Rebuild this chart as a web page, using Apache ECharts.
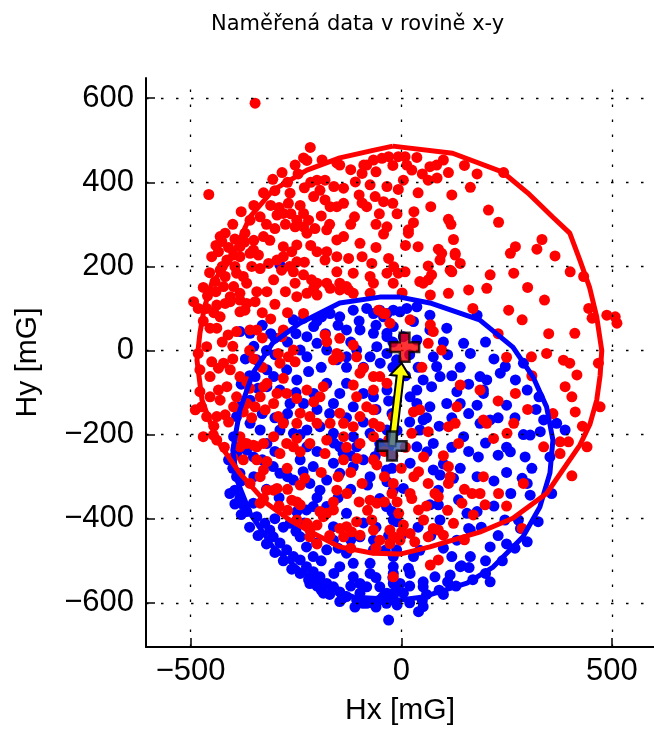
<!DOCTYPE html>
<html><head><meta charset="utf-8">
<script src="https://cdn.jsdelivr.net/npm/echarts@6/dist/echarts.min.js"></script>
<style>html,body{margin:0;padding:0;background:#fff}#c{width:654px;height:731px}</style>
</head><body><div id="c"></div>
<script>
const chartTitle = 'Naměřená data v rovině x-y';
const xName = 'Hx [mG]';
const yName = 'Hy [mG]';
const xTicks = [-500, 0, 500];
const yTicks = [-600, -400, -200, 0, 200, 400, 600];

const redPoints = [
[-347,588],[-457,371],[-216,483],[-232,458],[-252,441],[-224,452],[-188,453],[-153,446],[-283,423],[-305,407],[-327,375],[-230,387],[-200,405],[-181,405],[-193,381],[-264,374],[-268,350],[-280,326],[-295,322],[-208,366],[-181,358],[-169,342],[-153,342],[-232,326],[-248,310],[-252,294],[-232,294],[-224,279],[-335,318],[-359,310],[-371,279],[-327,271],[-430,271],[-418,279],[-426,259],[-383,247],[-351,239],[-434,235],[-398,227],[-450,223],[-248,251],[-280,247],[-200,235],[-177,235],[-153,263],[-177,287],
[-146,441],[-89,441],[-82,441],[-66,453],[-46,457],[-30,461],[-93,421],[-7,461],[9,461],[37,459],[13,441],[25,429],[5,405],[68,437],[84,441],[100,453],[112,423],[64,405],[-137,386],[-109,401],[-74,394],[-34,390],[-7,383],[40,375],[120,370],[164,388],[-137,350],[-93,351],[-82,342],[-62,366],[-42,354],[-111,318],[-52,325],[-10,325],[70,342],[-34,294],[-42,277],[17,287],[29,304],[17,279],[112,312],[118,300],[124,264],[207,334],[231,305],[243,423],[-98,255],[-137,271],[40,247],[88,241],[128,231],[259,231],[271,247],[334,264],[322,241],[365,225],[-125,219],[-93,223],[-30,219],[92,215],
[-18,199],[-34,184],[9,187],[44,164],[64,168],[72,180],[52,160],[64,201],[96,231],[128,227],[140,207],[116,191],[120,187],[211,180],[203,148],[160,144],[267,184],[401,187],[433,176],[2,137],[69,132],[112,136],[-38,88],[21,73],[69,61],[76,45],[64,17],[96,1],[255,96],[287,73],[412,41],[445,100],[453,77],[488,84],[508,80],[512,65],[468,-30],[345,-7],[309,-15],[250,-16],[385,-23],[417,-58],[49,-40],[140,-82],[187,-94],[132,-134],[128,-173],[112,-181],[195,-165],[203,-173],[271,-102],[389,-86],[405,-110],[413,-146],[472,-134],[267,-173],[251,-197],[219,-209],[136,-221],[64,-193],[25,-197],[29,-146],[44,-141],[338,-229],[377,-217],[397,-217],[441,-229],
[377,-245],[405,-298],[290,-316],[53,-253],[112,-276],[116,-300],[112,-316],[195,-300],[64,-316],[41,-288],[-22,-340],[21,-340],[25,-352],[80,-340],[88,-348],[144,-363],[168,-340],[187,-340],[199,-367],[231,-340],[-6,-387],[41,-379],[53,-403],[124,-411],[171,-391],[5,-415],[1,-431],[21,-435],[-3,-451],[32,-455],[-27,-459],[-51,-451],[64,-443],[76,-423],[88,-427],[100,-439],[287,-423],[88,-498],[69,-510],[-19,-538],
[-438,-213],[-383,-229],[-375,-221],[-351,-225],[-327,-221],[-375,-260],[-343,-260],[-327,-284],[-319,-264],[-288,-245],[-256,-229],[-240,-241],[-181,-245],[-137,-260],[-105,-257],[-66,-260],[-58,-272],[-271,-280],[-229,-304],[-260,-356],[-248,-360],[-240,-367],[-153,-332],[-161,-360],[-129,-340],[-93,-316],[-74,-356],[-58,-363],[-19,-316],[-335,-363],[-327,-352],[-319,-332],[-303,-332],[-295,-328],[-335,-300],[-359,-316],[-248,-403],[-224,-411],[-217,-427],[-217,-443],[-200,-415],[-185,-395],[-193,-383],[-177,-387],[-161,-379],[-146,-423],[-130,-419],[-118,-431],[-106,-407],[-98,-439],[-137,-443],[-66,-427],[-70,-403],[-27,-427],[-19,-443],
[-414,215],[-383,223],[-359,231],[-339,227],[-315,207],[-295,215],[-280,223],[-260,235],[-248,211],[-181,215],[-153,223],[-70,207],[-7,184],
[-256,187],[-232,180],[-213,168],[-200,160],[-252,160],[-153,187],[-177,160],[-146,160],[-125,144],[-114,184],[-74,176],[-66,160],[-19,160],
[-430,191],[-418,176],[-391,184],[-375,176],[-442,164],[-422,152],[-398,152],[-367,160],[-343,140],[-383,136],[-406,128],[-319,140],[-303,168],[-284,191],
[-493,116],[-482,100],[-462,100],[-438,108],[-418,112],[-406,116],[-383,120],[-367,112],[-347,116],[-371,96],[-430,80],[-454,53],[-438,53],[-411,37],[-391,45],[-383,92],[-359,49],[-343,49],[-280,49],[-284,33],[-256,1],[-292,-7],
[-248,128],[-224,136],[-200,132],[-169,148],[-146,144],[-130,152],[-208,148],[-114,136],[-74,136],[-42,88],[-27,65],[-54,96],
[-232,88],[-181,37],[-177,21],[-146,29],[-153,-7],[-114,13],[-106,-15],[-90,-42],[-98,-54],[-66,-62],[-51,-62],[-114,-82],[-185,-86],[-161,-22],[-146,-15],
[-288,-30],[-268,-15],[-252,-27],[-280,-66],[-319,-78],[-295,-102],[-248,-114],[-272,-102],[-224,-94],[-208,-122],[-193,-110],
[-482,-7],[-462,9],[-450,-27],[-478,-46],[-454,-62],[-434,-42],[-422,-30],[-406,-46],[-383,-62],[-367,-74],[-391,-110],[-430,-118],[-454,-110],[-474,-134],[-489,-141],[-478,-98],[-414,-86],[-434,-94],
[-462,-157],[-438,-157],[-418,-153],[-398,-134],[-375,-146],[-367,-126],[-347,-134],[-327,-86],[-335,-110],[-323,-141],[-303,-126],[-292,-157],[-280,-173],[-248,-173],[-240,-149],[-217,-157],[-200,-173],[-169,-173],[-146,-149],[-137,-173],[-114,-181],[-98,-157],[-82,-134],[-66,-141],[-66,-94],[-34,-78],[-106,-110],[-66,-173],[-19,-157],[-51,-181],
[-470,-205],[-446,-201],[-383,-205],[-367,-221],[-343,-229],[-303,-205],[-272,-221],[-248,-209],[-217,-221],[-177,-213],[-137,-205],[-98,-221],[-66,-205],[-30,-213],
[-440,250],[-410,245],[-395,265],[-372,258],[-350,262],[-312,262],[-300,290],[-320,300],[-290,340],[-310,345],[-262,325],[-275,300],[-240,345],[-220,310],[-205,290],[-190,320],[-215,400],[-245,420],[-270,400],[-300,380],[-350,345],[-380,330],[-400,300],[-425,200],[-455,185],[-470,150],[-460,130],[-445,90],[-470,70],[-425,20],[-400,10],[-360,0],[-330,30],[-310,75],[-270,90],[-330,90],[-300,110],[-275,140],[-265,200],[-230,210],[-215,250],[-335,195],[-355,200],[-395,200],[-440,140],[-330,-40],[-350,-20],[-360,-90],[-400,-20],[-410,-170],[-355,-160],[-445,-180],[-420,-230],[-400,-255],
[-120,430],[-60,425],[-20,440],[50,420],[85,410],[150,440],[180,420],[-100,370],[-160,390],[-60,300],[-20,350],[30,330],[10,250],[-60,245],[-170,300],[-120,300],
[300,150],[340,120],[230,40],[170,100],[310,-60],[360,-150],[300,-140],[230,-120],[430,-180],[350,40],[400,-30],
[-150,-300],[-120,-290],[-40,-300],[0,-280],[30,-300],[-80,-380],[-100,-360],[-40,-360],[-10,-360],[60,-370],[110,-380],[150,-330],[250,-370],[150,-450],[-120,-470],[-60,-470],[-200,-460],[-170,-440],[-20,-250],[10,-230],[100,-250],[-40,-240],[-130,-230],[-190,-290],[-240,-320],[-270,-330],[-290,-370],[-270,-380]
];

const bluePoints = [
[-288,203],[-383,45],[-359,41],
[-256,73],[-232,77],[-208,57],[-189,80],[-169,88],[-146,80],[-114,96],[-82,100],[-66,88],[-42,80],[-19,96],
[-224,33],[-200,17],[-240,1],[-224,-15],[-177,1],[-153,-22],[-130,-15],[-106,1],[-74,-15],[-58,9],[-34,-7],[-11,-22],[-66,41],[-130,49],[-98,49],[-34,41],
[-343,-22],[-319,-46],[-347,-62],[-303,-62],[-272,-46],[-248,-70],[-319,-86],[-288,-94],[-264,-126],[-232,-126],[-208,-102],[-177,-78],[-146,-102],[-130,-78],[-90,-102],[-66,-110],[-34,-94],[-11,-118],[-161,-126],[-114,-134],[-359,-118],[-383,-134],[-391,-157],[-359,-173],[-335,-189],[-288,-189],[-256,-197],[-224,-189],[-193,-181],[-161,-197],[-114,-205],[-74,-197],[-51,-221],[-146,-229],[-224,-229],[-319,-221],[-398,-205],[-375,-221],
[-51,96],[-34,88],[-3,92],[13,100],[37,104],[68,84],[29,69],[-19,57],[-34,33],[5,33],[37,25],[68,49],[108,53],[148,17],[164,-7],[180,84],[187,-62],[203,-70],[195,-94],[235,-54],[247,-38],[271,-70],[299,-94],[327,-110],[338,-165],[369,-173],[389,-189],[195,-102],[76,-15],[84,-38],[92,-62],[72,-86],[52,-70],[37,-94],[21,-110],[37,-126],[68,-134],[108,-126],[140,-126],[132,-98],[52,-165],[44,-189],[-22,-150],[-34,-189],[76,-221],[148,-205],[187,-173],[211,-165],[306,-201],[330,-193],
[37,-229],[61,-241],[21,-268],[-22,-280],[92,-296],[124,-304],[183,-253],[230,-249],[259,-241],[294,-253],[310,-280],[287,-304],[299,-316],[306,-344],[353,-253],[357,-340],[68,-367],[88,-367],[136,-355],[156,-387],[180,-383],[-22,-383],[-11,-407],[92,-403],[132,-451],[160,-423],[164,-427],[246,-403],[278,-403],[325,-407],[283,-423],[211,-467],[299,-455],[164,-490],[120,-490],[140,-514],[116,-534],[80,-538],[52,-550],[52,-562],[21,-530],[17,-518],[-19,-530],[-19,-554],[-34,-577],[-11,-573],[5,-577],[-51,-593],[41,-621],[52,-609],[-30,-641],[211,-550],[76,-284],[88,-332],[5,-328],[-34,-312],[-51,-352],[-38,-475],[44,-475],[29,-490],[-19,-490],
[143,-512],[161,-516],[-190,-570],[-91,-601],
[-407,-340],[-395,-332],[-383,-351],[-375,-367],[-367,-383],[-351,-363],[-343,-395],[-324,-411],[-312,-427],[-304,-443],[-288,-458],[-272,-474],[-256,-490],[-240,-498],[-225,-514],[-209,-526],[-193,-538],[-177,-554],[-161,-562],[-146,-574],[-130,-585],[-106,-593],[-82,-601],[-66,-601],[-35,-601],[-19,-593],[-146,-597],
[-391,-300],[-383,-292],[-391,-244],[-391,-229],[-367,-237],[-351,-253],[-304,-276],[-288,-292],[-256,-308],[-233,-288],[-209,-276],[-217,-316],[-193,-332],[-209,-371],[-177,-371],[-225,-379],[-248,-383],[-264,-411],[-240,-443],[-225,-467],[-201,-458],[-209,-490],[-177,-474],[-161,-451],[-146,-514],[-114,-538],[-98,-554],[-74,-530],[-74,-506],[-66,-474],[-114,-506],[-130,-482],[-98,-443],[-66,-451],[-161,-419],[-130,-387],[-177,-308],[-146,-292],[-114,-276],[-138,-244],[-106,-229],[-161,-268],[-74,-300],[-62,-252],[-51,-237],[-35,-284],[-19,-332],[-35,-371],[-19,-403],[-11,-474],[-19,-514],[-3,-554],[-51,-562],[-98,-577],[-19,-577],[-43,-585],[-82,-562],[-217,-554],[-185,-577],
[-300,-10],[-270,20],[-250,40],[-300,30],[-320,0],[-200,70],[-150,60],[-180,40],[-100,70],[-120,20],[-60,60],[-20,20],[20,-10],[40,-40],[10,-60],[-20,-40],[-50,-30],[-90,-40],[-130,-40],[-190,-40],[-220,-50],[-250,-100],[-200,-140],[-170,-150],[-130,-160],[-90,-170],[-60,-140],[-30,-120],[-10,-190],[20,-170],[60,-160],[90,-180],[120,-160],[160,-150],[180,-130],[230,-160],[250,-130],[270,-160],[220,-20],[200,20],[140,-40],[110,-10],[100,20],[120,-60],[160,-80],[290,-30],[320,-140],[290,-200],[250,-230],[200,-220],[160,-240],[120,-230],[100,-270],[140,-280],[180,-300],[220,-310],[250,-290],[260,-340],[220,-370],[190,-420],[230,-440],[250,-460],[200,-500],[100,-470],[70,-440],[40,-420],[0,-440],[-30,-440],[-60,-420],[-90,-410],[-120,-450],[-150,-470],[-190,-500],[-160,-530],[-120,-560],[-60,-540],[-20,-540],[20,-560],[60,-580],[90,-570],[110,-550],
[-300,-240],[-330,-260],[-350,-300],[-320,-330],[-290,-350],[-270,-300],[-300,-400],[-280,-420],[-250,-430],[-230,-410],[-330,-150],[-300,-160],[-270,-150],[-340,-90],[-360,-60],[-380,-80],[-370,-20],[-350,10],[-330,60],[-310,40],[-280,-170],[-240,-200],[-200,-240],[-160,-220],[-120,-250],[-90,-260],[-30,-230],[-80,-320],[-120,-330],[-150,-350],[-200,-350],[-240,-260],[-380,-310],[-400,-280],[-410,-260],[-395,-365],[-380,-390],[-360,-420],[-340,-440],[-320,-460],[-300,-480],[-280,-500],[-260,-520],[-240,-530],[-220,-545],[-200,-560],[-170,-580],[-140,-590],[-110,-610],[-60,-610],[-10,-605],[20,-600],[50,-595],[100,-580],[130,-560],[170,-545],[200,-530],[240,-500],[270,-470]
];

const redFit = [[-20,486],[122,469],[241,424],[300,375],[360,317],[400,279],[424,215],[447,150],[464,80],[476,0],[472,-60],[464,-118],[448,-175],[424,-225],[345,-340],[265,-399],[186,-432],[68,-467],[-3,-484],[-67,-482],[-146,-467],[-210,-434],[-265,-403],[-319,-364],[-383,-292],[-438,-213],[-473,-118],[-485,-23],[-478,41],[-468,100],[-450,160],[-406,215],[-359,318],[-305,381],[-224,429],[-146,458],[-67,476],[-20,486]];
const blueFit = [[-3,127],[68,113],[186,73],[265,8],[313,-63],[345,-134],[360,-213],[353,-291],[329,-372],[289,-443],[218,-515],[156,-553],[52,-586],[-3,-593],[-114,-586],[-177,-562],[-241,-522],[-305,-467],[-359,-387],[-390,-308],[-400,-237],[-383,-141],[-352,-53],[-305,18],[-241,65],[-146,113],[-51,127],[-3,127]];

const redCenter = [8, 8];
const blueCenter = [-22, -227];
const arrowTip = [1, -30];

const FONT = 'Liberation Sans, Arial, sans-serif';
const crossPath = 'path://M10,0H20V10H30V20H20V30H10V20H0V10H10Z';
const fmt = v => String(v).replace('-', '\u2212');

const chart = echarts.init(document.getElementById('c'), null, {renderer: 'canvas'});
chart.setOption({
  animation: false,
  backgroundColor: '#fff',
  title: {
    text: chartTitle, left: 206, top: 9,
    textStyle: {fontFamily: 'DejaVu Sans', fontSize: 21, fontWeight: 'normal', color: '#000'}
  },
  grid: {left: 146, top: 78, width: 508, height: 569, containLabel: false},
  xAxis: {
    type: 'value', min: -606, max: 600,
    name: xName, nameLocation: 'middle', nameGap: 49,
    nameTextStyle: {fontFamily: FONT, fontSize: 30, color: '#000'},
    axisLine: {show: true, onZero: false, lineStyle: {color: '#000', width: 2}},
    axisTick: {show: true, inside: true, length: 9, customValues: xTicks, lineStyle: {color: '#000', width: 1.5}},
    axisLabel: {show: true, customValues: xTicks, margin: 9, fontFamily: FONT, fontSize: 31, color: '#000', formatter: fmt},
    splitLine: {show: false}
  },
  yAxis: {
    type: 'value', min: -705, max: 648,
    name: yName, nameLocation: 'middle', nameGap: 103, nameRotate: 90,
    nameTextStyle: {fontFamily: FONT, fontSize: 30, color: '#000'},
    axisLine: {show: true, onZero: false, lineStyle: {color: '#000', width: 2}},
    axisTick: {show: true, inside: true, length: 9, customValues: yTicks, lineStyle: {color: '#000', width: 1.5}},
    axisLabel: {show: true, customValues: yTicks, margin: 12, fontFamily: FONT, fontSize: 31, color: '#000', formatter: fmt},
    splitLine: {show: false}
  },
  series: [
    {
      type: 'scatter', data: [], z: 1, silent: true,
      markLine: {
        silent: true, symbol: 'none', label: {show: false},
        lineStyle: {color: '#000', width: 1.3, type: [2.5, 12.5]},
        data: xTicks.map(v => ({xAxis: v})).concat(yTicks.map(v => ({yAxis: v})))
      }
    },
    {type: 'scatter', data: bluePoints, symbolSize: 11, itemStyle: {color: '#0000ff', opacity: 1}, z: 2, silent: true},
    {type: 'scatter', data: redPoints, symbolSize: 11, itemStyle: {color: '#ff0000', opacity: 1}, z: 3, silent: true},
    {type: 'line', data: blueFit, symbol: 'none', lineStyle: {color: '#0000ff', width: 5}, z: 4, silent: true},
    {type: 'line', data: redFit, symbol: 'none', lineStyle: {color: '#ff0000', width: 5}, z: 5, silent: true},
    {
      type: 'custom', z: 6, silent: true,
      data: [[blueCenter[0], blueCenter[1], arrowTip[0], arrowTip[1]]],
      encode: {x: [0, 2], y: [1, 3]},
      renderItem: function (params, api) {
        const s = api.coord([api.value(0), api.value(1)]);
        const e = api.coord([api.value(2), api.value(3)]);
        const dx = e[0] - s[0], dy = e[1] - s[1];
        const L = Math.sqrt(dx * dx + dy * dy);
        const ux = dx / L, uy = dy / L, nx = -uy, ny = ux;
        const hw = 3.5, hh = 10, hl = 13;
        const bx = e[0] - ux * hl, by = e[1] - uy * hl;
        return {
          type: 'polygon',
          shape: {points: [
            [s[0] + nx * hw, s[1] + ny * hw], [bx + nx * hw, by + ny * hw], [bx + nx * hh, by + ny * hh],
            [e[0], e[1]], [bx - nx * hh, by - ny * hh], [bx - nx * hw, by - ny * hw], [s[0] - nx * hw, s[1] - ny * hw]
          ]},
          style: {fill: '#ffff00', stroke: '#000', lineWidth: 2}
        };
      }
    },
    {type: 'scatter', data: [blueCenter], symbol: crossPath, symbolSize: 29, itemStyle: {color: '#3f62a0', borderColor: '#000', borderWidth: 2.5}, z: 7, silent: true},
    {type: 'scatter', data: [redCenter], symbol: crossPath, symbolSize: 29, itemStyle: {color: '#ff0000', borderColor: '#000', borderWidth: 2.5}, z: 8, silent: true}
  ]
});
</script></body></html>
